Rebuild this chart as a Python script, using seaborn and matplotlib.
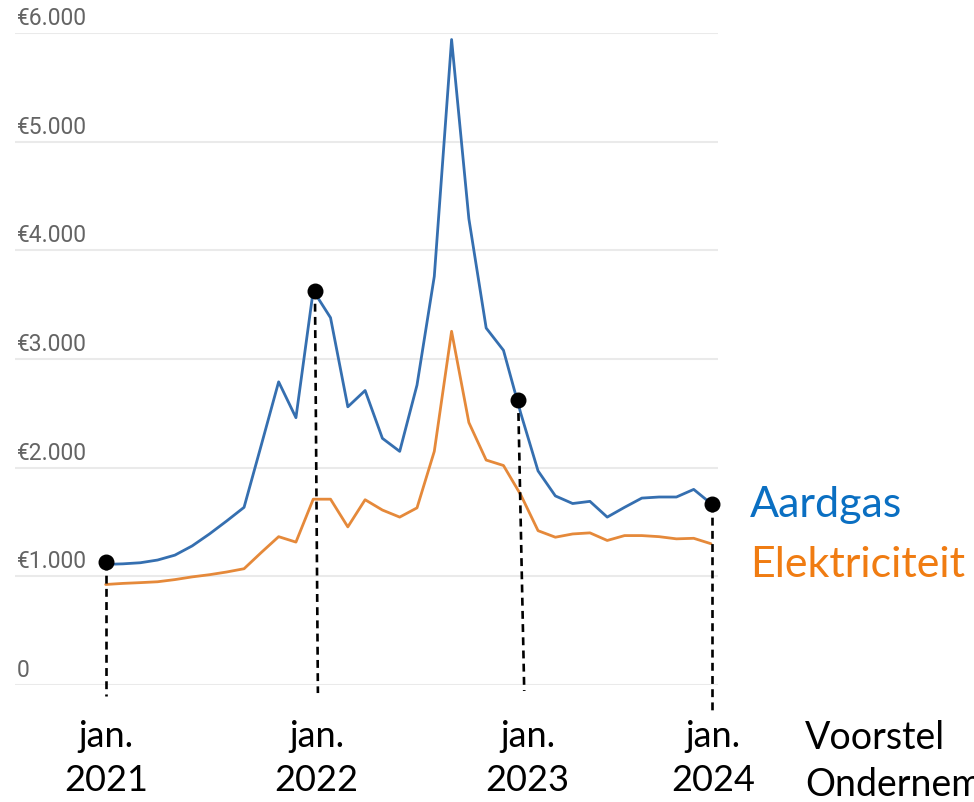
import numpy as np
import pandas as pd
import matplotlib
matplotlib.use("Agg")
import matplotlib.pyplot as plt
import matplotlib.transforms as mtransforms
import seaborn as sns

# ---------------- data ----------------
months = [f"{y}-{m:02d}" for y in (2021, 2022, 2023) for m in range(1, 13)]
aardgas = [1110, 1115, 1125, 1150, 1195, 1280, 1390, 1510, 1635, 2210,
           2790, 2460, 3630, 3380, 2560, 2710, 2270, 2150, 2760, 3760,
           5940, 4290, 3285, 3080, 2500, 1970, 1740, 1670, 1690, 1545,
           1635, 1720, 1730, 1730, 1800, 1670]
elektriciteit = [925, 935, 942, 950, 970, 995, 1015, 1040, 1070, 1220,
                 1365, 1315, 1710, 1710, 1455, 1705, 1610, 1545, 1630, 2150,
                 3255, 2415, 2070, 2020, 1750, 1420, 1360, 1390, 1400, 1330,
                 1375, 1375, 1365, 1345, 1350, 1300]
series_names = ["Aardgas", "Elektriciteit"]
y_ticks = [0, 1000, 2000, 3000, 4000, 5000, 6000]
y_tick_labels = ["0", "€1.000", "€2.000", "€3.000", "€4.000", "€5.000", "€6.000"]
x_labels = ["jan.\n2021", "jan.\n2022", "jan.\n2023", "jan.\n2024"]
marker_months = [0.0, 12.1, 23.85, 35.05]
marker_values = [1133, 3630, 2624, 1667]
side_note = "Voorstel\nOndernemers"

# ---------------- style ----------------
sns.set_theme(style="white")
plt.rcParams['font.family'] = ['Lato', 'DejaVu Sans']

BLUE = "#356fb0"
ORANGE = "#e5893a"
BLUE_TXT = "#0a6fc2"
ORANGE_TXT = "#f07c12"

W, H = 974, 803
fig = plt.figure(figsize=(W / 100, H / 100), dpi=100)
fig.patch.set_facecolor("white")


def fx(px):
    return px / W


def fy(py):
    return 1 - py / H


ax = fig.add_axes([fx(15), fy(686), fx(718) - fx(15), fy(34) - fy(686)])

df = pd.DataFrame({
    "idx": list(range(len(months))) * 2,
    "value": aardgas + elektriciteit,
    "series": [series_names[0]] * len(months) + [series_names[1]] * len(months),
})
sns.lineplot(data=df, x="idx", y="value", hue="series",
             palette={series_names[0]: BLUE, series_names[1]: ORANGE},
             linewidth=2.0, ax=ax, legend=False, zorder=3)

step = (711 - 105.7) / 35
ax.set_xlim(-(105.7 - 15) / step, 35 + (718 - 711) / step)
ax.set_ylim(0, 6000)
ax.set_xticks([])
ax.set_yticks([])
ax.set_xlabel("")
ax.set_ylabel("")
for s in ax.spines.values():
    s.set_visible(False)

# gridlines
for t in y_ticks:
    ax.axhline(t, color="#eaeaea", lw=1.5, zorder=0)

# y labels above gridlines, left aligned
ytrans = mtransforms.blended_transform_factory(ax.transAxes, ax.transData)
for t, lab in zip(y_ticks, y_tick_labels):
    ax.annotate(lab, xy=(0, t), xycoords=ytrans, xytext=(2, 4),
                textcoords="offset pixels", ha="left", va="bottom",
                fontsize=16.5, color="#646464", family=["Roboto", "DejaVu Sans"])

# dashed drop lines and markers
dash_bottom_months = [0.0, 12.27, 24.2, 35.05]
dash_bottom_values = [-101, -74, -55, -249]
for xt, yt, xb, yb in zip(marker_months, marker_values, dash_bottom_months, dash_bottom_values):
    ax.plot([xt, xb], [yt, yb], color="black", lw=1.9, ls=(0, (3, 2)),
            clip_on=False, zorder=4)
ax.scatter(marker_months, marker_values, s=110, color="black", zorder=6, clip_on=False)

# x labels
xtrans = mtransforms.blended_transform_factory(ax.transData, fig.transFigure)
label_x = [0.02, 12.2, 24.4, 35.1]
for xv, lab in zip(label_x, x_labels):
    ax.text(xv, fy(720), lab, transform=xtrans, ha="center", va="top",
            fontsize=26, color="black", linespacing=1.42)

fig.text(fx(805), fy(720), side_note, ha="left", va="top", fontsize=27,
         color="black", linespacing=1.38)

# series labels
fig.text(fx(750), fy(505), series_names[0], ha="left", va="center",
         fontsize=31, color=BLUE_TXT)
fig.text(fx(750), fy(565), series_names[1], ha="left", va="center",
         fontsize=31, color=ORANGE_TXT)

fig.savefig("out.png", dpi=100, facecolor="white")
